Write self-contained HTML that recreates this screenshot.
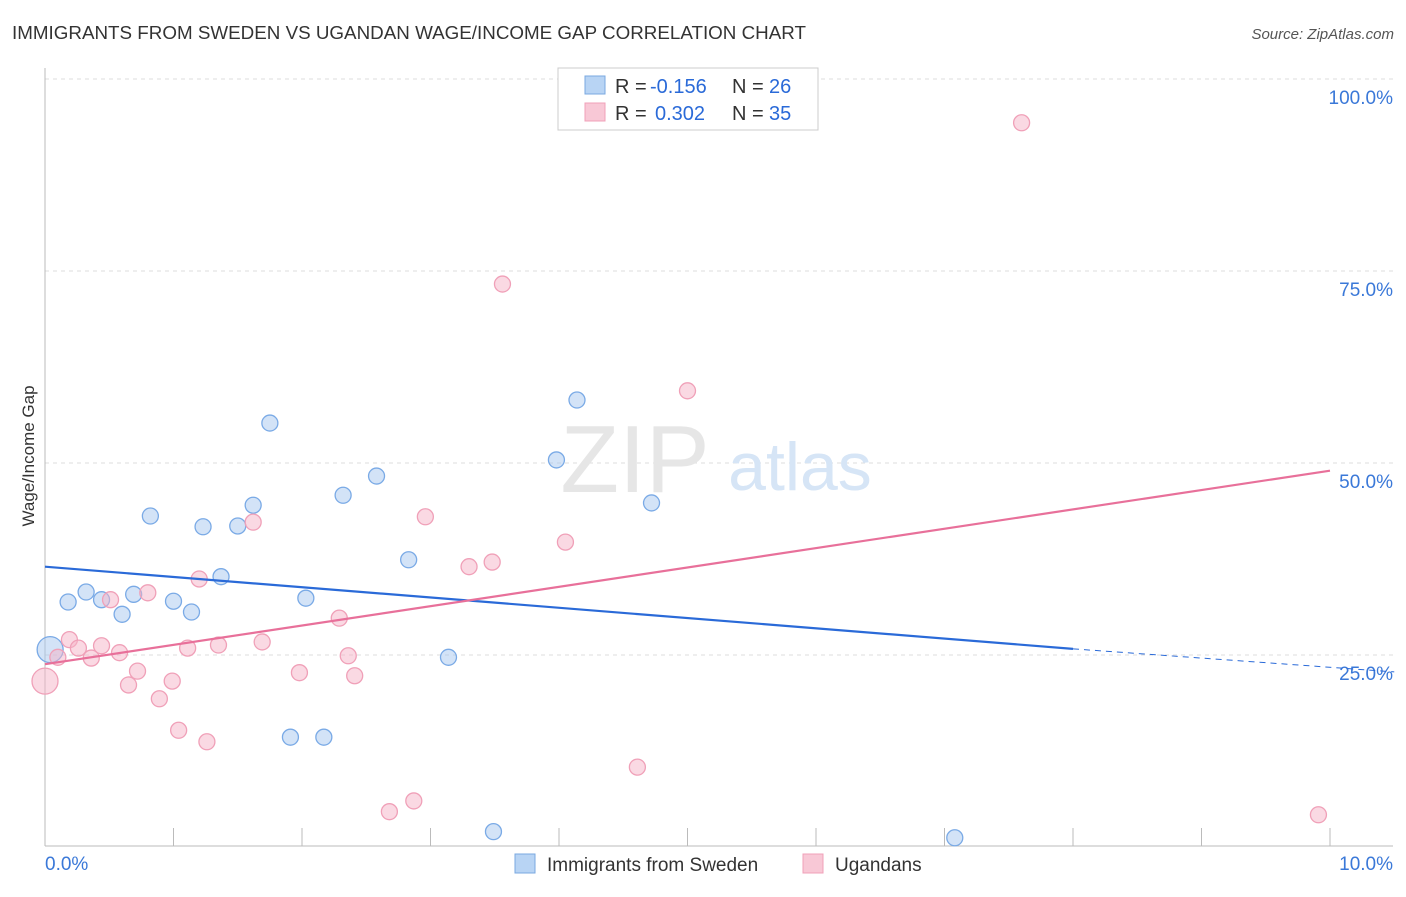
<!DOCTYPE html>
<html><head><meta charset="utf-8"><style>
body{margin:0;background:#fff;font-family:"Liberation Sans",sans-serif}
svg text{font-family:"Liberation Sans",sans-serif}
</style></head><body>
<svg id="c" width="1406" height="892">
<text x="12" y="39" font-size="18" fill="#333" textLength="794" lengthAdjust="spacingAndGlyphs">IMMIGRANTS FROM SWEDEN VS UGANDAN WAGE/INCOME GAP CORRELATION CHART</text>
<text x="1394" y="39" font-size="15" fill="#555" font-style="italic" text-anchor="end">Source: ZipAtlas.com</text>
<text x="34" y="456" font-size="17" fill="#333" text-anchor="middle" transform="rotate(-90 34 456)">Wage/Income Gap</text>
<g id="grid"></g>
<text x="635" y="492" font-size="96" fill="#e6e6e6" font-family="Liberation Serif" text-anchor="middle">ZIP</text>
<text x="800" y="490" font-size="68" fill="#d6e5f6" text-anchor="middle">atlas</text>
<g id="marks"></g>
<g>
<rect x="558" y="68" width="260" height="62" fill="#fff" stroke="#ccc"/>
<rect x="585" y="76" width="20" height="18" fill="#b8d4f4" stroke="#7aa8e0"/>
<rect x="585" y="103" width="20" height="18" fill="#f8c8d6" stroke="#f0a0b8"/>
<text x="615" y="93" font-size="20" fill="#333">R =</text>
<text x="650" y="93" font-size="20" fill="#2a6ad8">-0.156</text>
<text x="732" y="93" font-size="20" fill="#333">N =</text>
<text x="769" y="93" font-size="20" fill="#2a6ad8">26</text>
<text x="615" y="120" font-size="20" fill="#333">R =</text>
<text x="655" y="120" font-size="20" fill="#2a6ad8">0.302</text>
<text x="732" y="120" font-size="20" fill="#333">N =</text>
<text x="769" y="120" font-size="20" fill="#2a6ad8">35</text>
</g>
<g>
<rect x="515" y="854" width="20" height="19" fill="#b8d4f4" stroke="#7aa8e0"/>
<text x="547" y="871" font-size="19" fill="#333">Immigrants from Sweden</text>
<rect x="803" y="854" width="20" height="19" fill="#f8c8d6" stroke="#f0a0b8"/>
<text x="835" y="871" font-size="19" fill="#333">Ugandans</text>
</g>
</svg>
<script>
const yTicks=[25,50,75,100];
const yTickLabels=["25.0%","50.0%","75.0%","100.0%"];
const xTickLabels=["0.0%","10.0%"];
const swedenX=[0.04,0.18,0.32,0.44,0.60,0.69,0.82,1.00,1.14,1.23,1.37,1.50,1.62,1.75,1.91,2.03,2.17,2.32,2.58,2.83,3.14,3.49,3.98,4.14,4.72,7.08];
const swedenY=[25.7,31.9,33.2,32.2,30.3,32.9,43.1,32.0,30.6,41.7,35.2,41.8,44.5,55.2,14.3,32.4,14.3,45.8,48.3,37.4,24.7,2.0,50.4,58.2,44.8,1.2];
const ugandaX=[0.0,0.10,0.19,0.26,0.36,0.44,0.51,0.58,0.65,0.72,0.80,0.89,0.99,1.04,1.11,1.20,1.26,1.35,1.62,1.69,1.98,2.29,2.36,2.41,2.68,2.87,2.96,3.30,3.48,3.56,4.05,4.61,5.00,7.60,9.91];
const ugandaY=[21.6,24.7,27.0,25.9,24.6,26.2,32.2,25.3,21.1,22.9,33.1,19.3,21.6,15.2,25.9,34.9,13.7,26.3,42.3,26.7,22.7,29.8,24.9,22.3,4.6,6.0,43.0,36.5,37.1,73.3,39.7,10.4,59.4,94.3,4.2];
const swedenTrend=[36.5,25.8,22.8]; // at x=0, 8.0, 10.5
const ugandaTrend=[23.8,49.0]; // at x=0, 10
const NS="http://www.w3.org/2000/svg";
const X=v=>45+v*128.5, Y=v=>847-v*7.68;
function mk(t,a,p){const e=document.createElementNS(NS,t);for(const k in a)e.setAttribute(k,a[k]);p.appendChild(e);return e;}
const g=document.getElementById('grid'), m=document.getElementById('marks');
yTicks.forEach((t,i)=>{
 const l=mk('line',{x1:45,x2:1393,y1:Y(t),y2:Y(t),stroke:'#ddd','stroke-dasharray':'4,4'},g);
 
 
 const tx=mk('text',{x:1393,y:Y(t)+25,'font-size':19,fill:'#3a78d8','text-anchor':'end'},g);
 tx.textContent=yTickLabels[i];
 
 
});
mk('line',{x1:45,x2:45,y1:68,y2:846,stroke:'#bbb'},g);
mk('line',{x1:45,x2:1393,y1:846,y2:846,stroke:'#bbb'},g);
for(let i=0;i<=10;i++){const t=mk('line',{x1:X(i),x2:X(i),y1:828,y2:846,stroke:'#bbb'},g);
 
 }
[[0,45,'start'],[10,1393,'end']].forEach((d,i)=>{const t=mk('text',{x:d[1],y:870,'font-size':19,fill:'#3a78d8','text-anchor':d[2]},g);
 t.textContent=xTickLabels[i];
 
 });
swedenX.forEach((x,i)=>{const c=mk('circle',{cx:X(x),cy:Y(swedenY[i]),r:i==0?13:8,fill:'rgba(168,200,240,0.5)',stroke:'#7aaae6','stroke-width':1.3},m);
 
 });
ugandaX.forEach((x,i)=>{const c=mk('circle',{cx:X(x),cy:Y(ugandaY[i]),r:i==0?13:8,fill:'rgba(246,180,200,0.5)',stroke:'#f0a0b8','stroke-width':1.3},m);
 
 });
let l=mk('line',{x1:X(0),y1:Y(swedenTrend[0]),x2:X(8),y2:Y(swedenTrend[1]),stroke:'#2a6ad8','stroke-width':2.2},m);


l=mk('line',{x1:X(8),y1:Y(swedenTrend[1]),x2:X(10.5),y2:Y(swedenTrend[2]),stroke:'#2a6ad8','stroke-width':1,'stroke-dasharray':'6,5'},m);


l=mk('line',{x1:X(0),y1:Y(ugandaTrend[0]),x2:X(10),y2:Y(ugandaTrend[1]),stroke:'#e8709a','stroke-width':2.2},m);


</script>
</body></html>
